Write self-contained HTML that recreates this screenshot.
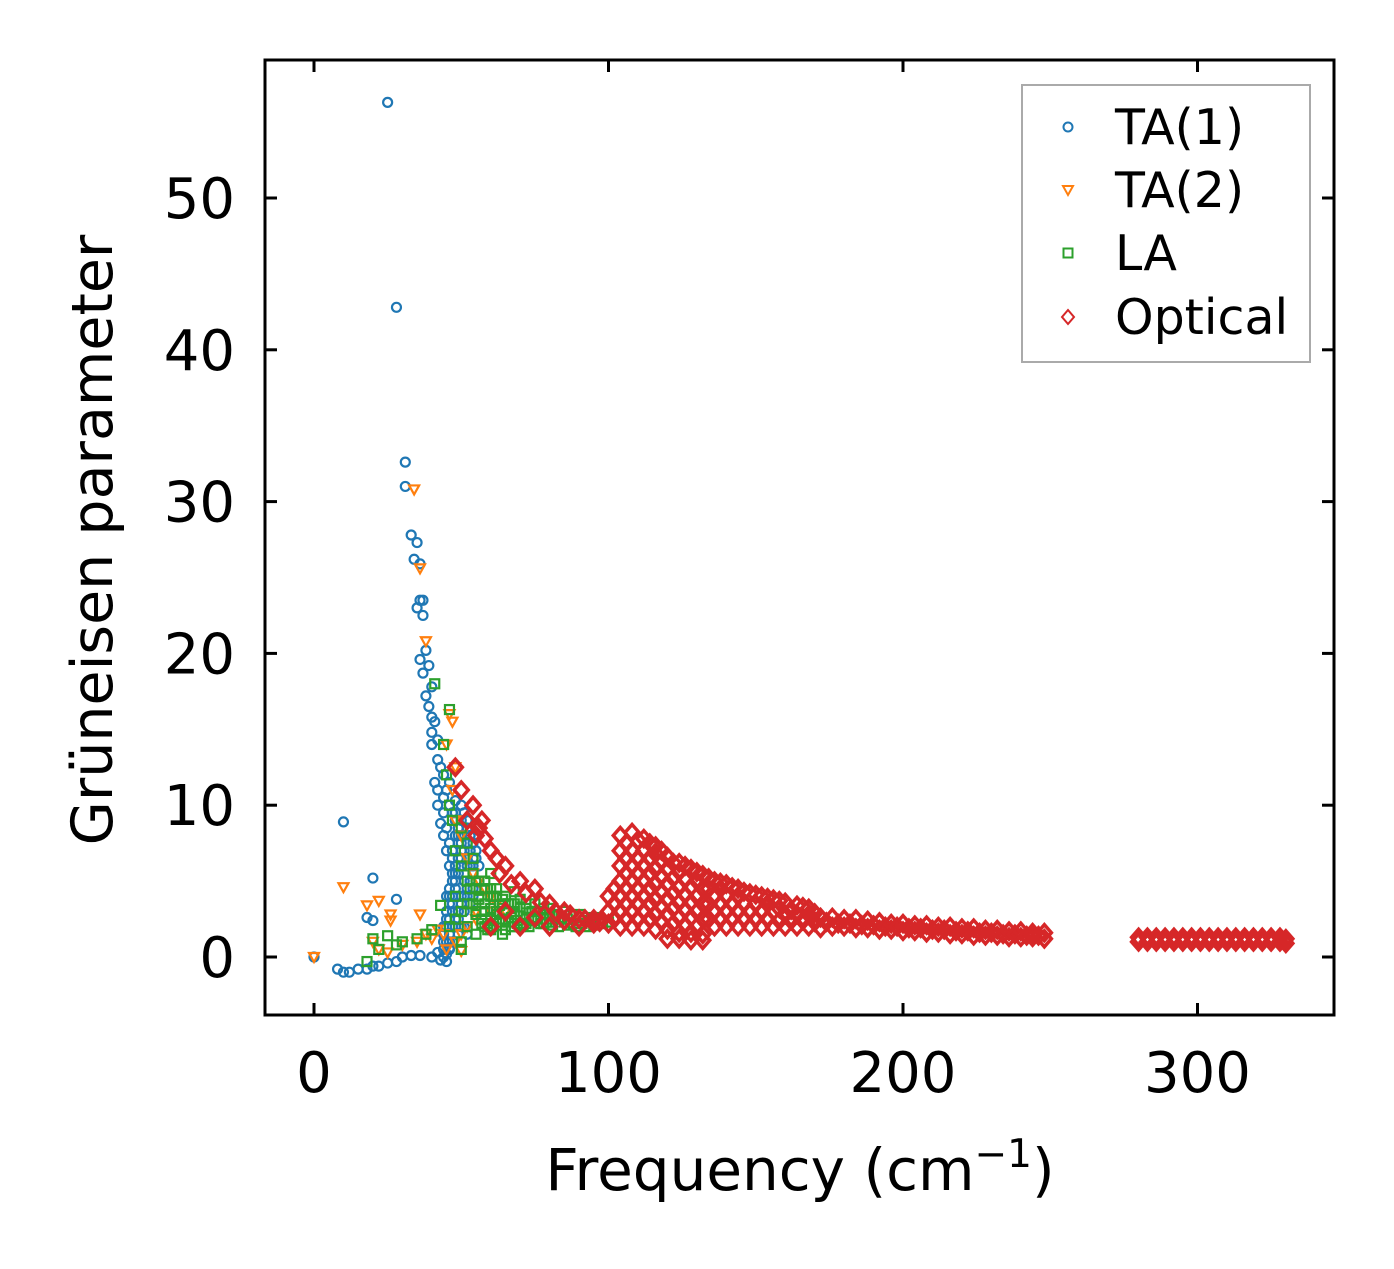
<!DOCTYPE html>
<html><head><meta charset="utf-8">
<style>
html,body{margin:0;padding:0;background:#fff;}
svg text{font-family:"DejaVu Sans","Liberation Sans",sans-serif;fill:#000;}
</style></head>
<body>
<svg id="chart" width="1394" height="1264" viewBox="0 0 1394 1264" xmlns="http://www.w3.org/2000/svg">
<rect width="1394" height="1264" fill="#fff"/>
<g id="marks"></g>
<rect x="265" y="60" width="1069" height="955" fill="none" stroke="#000" stroke-width="3"/>
<g id="ticks"></g>
<text x="800" y="1190" font-size="58" text-anchor="middle">Frequency (cm<tspan dy="-23" font-size="39">−1</tspan><tspan dy="23">)</tspan></text>
<text transform="translate(112,540) rotate(-90)" font-size="57" text-anchor="middle">Grüneisen parameter</text>
<g>
<rect x="1022" y="85" width="288" height="277" fill="#fff" stroke="#aaa" stroke-width="2"/>
<g id="legend-items"></g>
</g>
</svg>
<script>
const xTicks=[0,100,200,300];
const yTicks=[0,10,20,30,40,50];
const seriesNames=["TA(1)","TA(2)","LA","Optical"];
const ta1X=[0,8,10,12,15,18,20,22,25,28,30,33,36,40,43,45,10,20,28,18,20,25,28,31,31,33,35,34,36,36,37,35,37,38,36,39,37,40,38,39,40,41,40,42,40,42,43,41,42,44,42,44,43,45,44,46,45,47,46,48,47,48,46,47,45,46,45,44,44,48,49,50,50,51,50,49,48,47,46,52,53,52,51,50,49,53,54,55,54,48,50,46,47,49,51,53,55,56,
44,45,46,47,48,49,50,51,52,53,44,45,46,47,48,49,50,51,52,53,54,45,46,47,48,49,50,51,52,53,54,46,47,48,49,50,51,52,53,54,55,47,48,49,50,51,52,53,54,42,43,44,45,46,44,45,46,47,48,49,50];
const ta1Y=[0,-0.8,-1,-1,-0.8,-0.8,-0.6,-0.6,-0.4,-0.3,0,0.1,0.1,0,-0.2,-0.3,8.9,5.2,3.8,2.6,2.4,56.3,42.8,32.6,31,27.8,27.3,26.2,25.9,23.5,23.5,23,22.5,20.2,19.6,19.2,18.7,17.8,17.2,16.5,15.8,15.5,14.8,14.3,14,13,12.5,11.5,11,10.5,10,9.5,8.8,8.5,8,7.5,7,6.5,6,5.5,5,4.5,4,3.5,3,2.5,2,1.5,1,9,8,7,6,5,4,3,2,1,0.5,6,5,4,3,2,1.5,7,6,5,4,10.3,10,11.5,9.5,7.5,8,8,7,6,
0.5,1,1.5,2,2.5,3,3.5,4,4.5,5,2,2.5,3.5,4,5,5.5,6.5,7,7.5,6,5.5,4,4.5,5.5,6,6.5,7.5,8,8.5,7,6.5,1,7,8,8.5,9,9.5,9,8,7.5,6.5,3,9.5,2.5,3.5,2,1.5,3.5,4.5,0.3,-0.2,0,0.2,0.6,12,11,10,9.5,9,8.5,8];
const ta2X=[0,10,18,22,26,26,36,20,22,25,30,35,40,38,34,36,38,46,47,45,48,47,48,50,52,54,56,58,60,62,55,52,50,48,45,50,55,60,65,44,42];
const ta2Y=[0,4.6,3.4,3.7,2.8,2.4,2.8,1,0.5,0.3,0.8,1,1.2,1.5,30.8,25.6,20.8,16,15.5,14,12.5,11,9,8,6.5,5.5,5,4.5,4,3.5,3,2,1.5,1,0.5,0.4,2.5,3,3,1.5,1.8];
const laX=[25,20,18,22,28,30,35,38,40,43,41,46,44,45,46,47,50,52,54,48,50,52,55,58,60,62,65,68,70,72,75,78,80,85,90,95,100,55,58,60,62,65,68,70,75,80,52,50,50,55,58,60,64,66,72,88,84,52,56,60,64,68,74,78,82,92,98,48,50,46,48,
54,56,58,60,62,64,66,68,70,72,74,76,78,80,82,84,86,54,56,58,60,62,64,66,68,70,72,74,76,78,80,57,59,61,63,65,67,69,71,73,75,77,79,81,83,85,87,89,91,93,95,53,55,57,59,61,63,65,67,69,71];
const laY=[1.4,1.2,-0.3,0.5,0.8,1,1.2,1.5,1.8,3.4,18,16.3,14,12,10,9,8.5,7.5,6.5,7,6,5,4.5,5,5.5,4.5,4,4.3,3.8,3.5,3.5,3.2,3.2,3,2.8,2.6,2.3,3,3,2.5,3,2.5,3,2,2.5,2.5,2,1,0.5,1.5,2,1.8,1.5,3.5,2.5,2.2,2.5,3.5,4,4.5,3.5,2,3,2.5,2.8,2.4,2.2,4,3,2,2.5,
5.5,5,4.5,4,4,3.8,3.5,3.5,3.3,3.2,3,3,2.8,2.8,2.7,2.6,2.5,3.5,3.8,3.5,3.2,2.8,2.5,2.3,2.8,2.7,2.2,2.4,2.6,2.2,2.3,2.5,2.2,2,2.3,1.8,2,2.2,2.1,2,2.4,2.2,2.3,2.1,2,2.3,2.1,2,2.2,2,2.1,4.5,2.8,2.2,1.8,4,3.4,3,2.6,2.4,2.2];
const optX=[48,50,52,55,58,60,62,65,70,75,80,85,90,95,60,70,80,90,
100,100,100,104,104,104,104,104,104,104,108,108,108,108,108,108,108,112,112,112,112,112,112,112,116,116,116,116,116,116,116,120,120,120,120,120,120,124,124,124,124,124,124,128,128,128,128,128,132,132,132,132,132,136,136,136,136,140,140,140,140,144,144,144,144,148,148,148,152,152,152,156,156,156,160,160,160,164,164,164,168,168,168,172,172,
176,176,180,180,184,184,188,188,192,192,196,196,200,200,204,204,208,208,212,212,216,216,220,220,224,224,228,228,232,232,236,236,240,240,244,244,248,248,
280,280,283,283,286,286,289,289,292,292,295,295,298,298,301,301,304,304,307,307,310,310,313,313,316,316,319,319,322,322,325,325,328,328,330,330,
102,102,102,106,106,106,106,106,106,110,110,110,110,110,110,114,114,114,114,114,114,118,118,118,118,118,118,122,122,122,122,122,126,126,126,126,126,130,130,130,130,130,134,134,134,134,138,138,138,138,142,142,142,146,146,146,150,150,150,154,154,154,158,158,158,162,162,166,166,170,170,120,124,128,132,
174,178,182,186,190,194,198,202,206,210,214,218,222,226,230,234,238,242,246,
63,67,72,77,82,87,92,97,65,75,85,95,56,54,57];
const optY=[12.5,11,9,8,7.8,7,6.5,6,5,4.5,3.5,3,2.5,2.5,2,2,2,2,
2.2,3,4,2,3,4,5,6,7,8,2,3,4,5,6,7,8.2,2,3,4,5,6,7,7.8,1.8,2.8,3.8,4.8,5.8,6.8,7.3,1.8,2.8,3.8,4.8,5.8,6.6,1.6,2.6,3.6,4.6,5.6,6.2,1.6,2.6,3.6,4.6,5.8,1.5,2.5,3.5,4.5,5.4,2,3,4,5,2,3,4,4.8,2,3,4,4.5,2,3,4.2,2,3,4,2,3,3.8,2,2.8,3.6,2,2.8,3.4,2,2.8,3.2,1.9,2.6,
2,2.6,2,2.5,1.9,2.5,1.9,2.4,1.8,2.3,1.8,2.2,1.7,2.2,1.7,2.1,1.6,2.1,1.6,2,1.5,2,1.5,1.9,1.4,1.9,1.4,1.8,1.4,1.8,1.3,1.7,1.3,1.7,1.3,1.6,1.2,1.6,
1,1.3,1,1.3,1,1.3,1,1.3,1,1.3,1,1.3,1,1.3,1,1.3,1,1.3,1,1.3,1,1.3,1,1.3,1,1.3,1,1.3,1,1.3,1,1.3,1,1.3,0.9,1.2,
2.5,3.5,4.5,2.5,3.5,4.5,5.5,6.5,7.5,2.5,3.5,4.5,5.5,6.5,7.7,2.5,3.5,4.5,5.5,6.5,7.5,2.3,3.3,4.3,5.3,6.3,7,2.2,3.2,4.2,5.2,6.2,2.1,3.1,4.1,5.1,6,2,3,4,5,5.6,2.5,3.5,4.5,5.2,2.5,3.5,4.5,4.9,2.5,3.5,4.6,2.5,3.5,4.3,2.5,3.5,4.1,2.5,3.5,3.9,2.4,3.2,3.7,2.4,3.1,2.4,3.3,2.3,2.9,1.2,1.2,1.1,1.1,
2.3,2.2,2.2,2.1,2.1,2,2,1.9,1.9,1.8,1.8,1.7,1.7,1.6,1.6,1.5,1.5,1.4,1.4,
5.5,4.8,4.2,3.6,3,2.8,2.5,2.3,3,2.6,2.4,2.2,8.5,10,9];

const NS="http://www.w3.org/2000/svg";
const X0=314,XS=2.945,Y0=957,YS=15.18;
function sx(v){return X0+v*XS;}
function sy(v){return Y0-v*YS;}
const colors=["#1f77b4","#ff7f0e","#2ca02c","#d62728"];
function marker(kind,x,y,color,legend){
  let el;
  if(kind===0){el=document.createElementNS(NS,"circle");el.setAttribute("cx",x);el.setAttribute("cy",y);el.setAttribute("r",4.5);}
  else if(kind===1){el=document.createElementNS(NS,"polygon");el.setAttribute("points",`${x-5},${y-4} ${x+5},${y-4} ${x},${y+5}`);}
  else if(kind===2){el=document.createElementNS(NS,"rect");el.setAttribute("x",x-4.5);el.setAttribute("y",y-4.5);el.setAttribute("width",9);el.setAttribute("height",9);}
  else {const h=legend?7:8,w=legend?6:7;el=document.createElementNS(NS,"polygon");el.setAttribute("points",`${x},${y-h} ${x+w},${y} ${x},${y+h} ${x-w},${y}`);}
  el.setAttribute("fill","none");el.setAttribute("stroke",color);el.setAttribute("stroke-width",kind===3&&!legend?"3.5":(legend?"2":"2.2"));
  return el;
}
const marks=document.getElementById("marks");
const sets=[[ta1X,ta1Y],[ta2X,ta2Y],[laX,laY],[optX,optY]];
const setNames=["ta1-point","ta2-point","la-point","optical-point"];
sets.forEach((s,k)=>{
  const g=document.createElementNS(NS,"g");
  
  
  for(let i=0;i<s[0].length;i++){
    const m=marker(k,sx(s[0][i]),sy(s[1][i]),colors[k],false);
    
    
    g.appendChild(m);
  }
  marks.appendChild(g);
});
const ticks=document.getElementById("ticks");
function line(x1,y1,x2,y2){const l=document.createElementNS(NS,"line");l.setAttribute("x1",x1);l.setAttribute("y1",y1);l.setAttribute("x2",x2);l.setAttribute("y2",y2);l.setAttribute("stroke","#000");l.setAttribute("stroke-width","3");ticks.appendChild(l);}
function text(x,y,s,anchor,size){const t=document.createElementNS(NS,"text");t.setAttribute("x",x);t.setAttribute("y",y);t.setAttribute("text-anchor",anchor);t.setAttribute("font-size",size);t.textContent=s;return t;}
xTicks.forEach(v=>{
  const x=sx(v);line(x,1015,x,1003);line(x,60,x,72);
  const t=text(x,1092,String(v),"middle",56);
  
  
  ticks.appendChild(t);
});
yTicks.forEach(v=>{
  const y=sy(v);line(265,y,277,y);line(1334,y,1322,y);
  const t=text(235,y+20,String(v),"end",56);
  
  
  ticks.appendChild(t);
});
const leg=document.getElementById("legend-items");
const legY=[127,190,253,317];
seriesNames.forEach((n,k)=>{
  const g=document.createElementNS(NS,"g");
  
  
  g.appendChild(marker(k,1068,legY[k],colors[k],true));
  g.appendChild(text(1115,legY[k]+17,n,"start",49));
  leg.appendChild(g);
});
</script>
</body></html>
